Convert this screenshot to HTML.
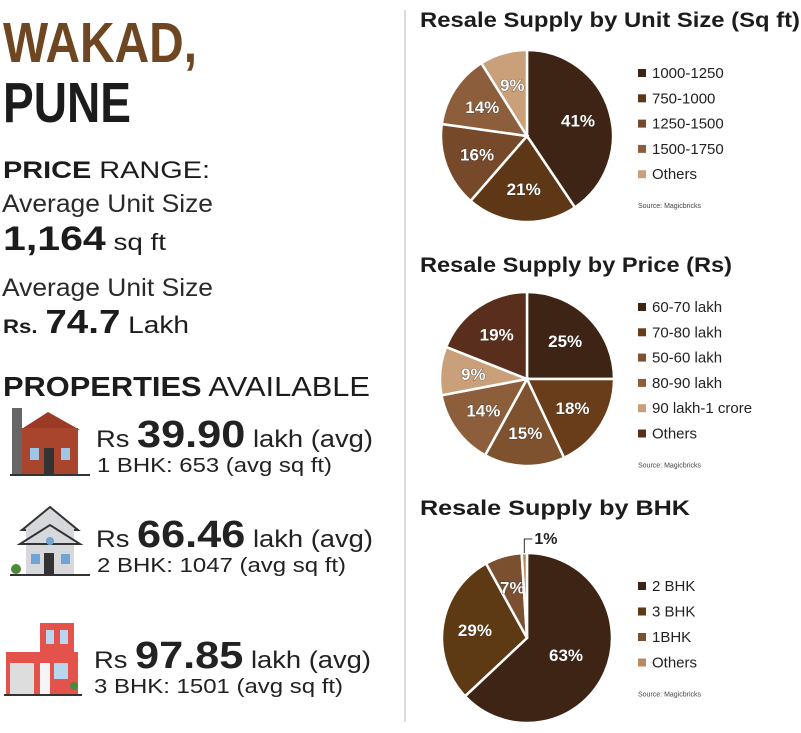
<!DOCTYPE html>
<html><head><meta charset="utf-8"><style>
html,body{margin:0;padding:0;background:#fff;}
svg{display:block;font-family:"Liberation Sans",sans-serif;}
</style></head><body>
<svg id="root" width="801" height="733" viewBox="0 0 801 733">
<g>
<text x="3" y="62" font-size="57" font-weight="bold" fill="#6e4722" textLength="194" lengthAdjust="spacingAndGlyphs">WAKAD,</text>
<text x="3" y="122" font-size="57" font-weight="bold" fill="#1c1c1c" textLength="128" lengthAdjust="spacingAndGlyphs">PUNE</text>
<text x="3" y="178" font-size="24" fill="#1c1c1c" textLength="207" lengthAdjust="spacingAndGlyphs"><tspan font-weight="bold">PRICE</tspan> RANGE:</text>
<text x="2" y="212" font-size="25" fill="#2a2a2a" textLength="211" lengthAdjust="spacingAndGlyphs">Average Unit Size</text>
<text x="3" y="250" font-size="23" fill="#1c1c1c" textLength="163" lengthAdjust="spacingAndGlyphs"><tspan font-weight="bold" font-size="34">1,164</tspan> sq ft</text>
<text x="2" y="296" font-size="25" fill="#2a2a2a" textLength="211" lengthAdjust="spacingAndGlyphs">Average Unit Size</text>
<text x="3" y="333" font-size="24" fill="#1c1c1c" textLength="186" lengthAdjust="spacingAndGlyphs"><tspan font-weight="bold" font-size="19">Rs.</tspan> <tspan font-weight="bold" font-size="33">74.7</tspan> Lakh</text>
<text x="3" y="396" font-size="28" fill="#1c1c1c" textLength="367" lengthAdjust="spacingAndGlyphs"><tspan font-weight="bold">PROPERTIES</tspan> AVAILABLE</text>

<g>
<rect x="12" y="408" width="10" height="66" fill="#666"/>
<polygon points="20,430 48,412 80,430" fill="#9c3b25"/>
<rect x="22" y="428" width="56" height="46" fill="#a8452c"/>
<rect x="30" y="448" width="9" height="12" fill="#9fc6e6"/>
<rect x="61" y="448" width="9" height="12" fill="#9fc6e6"/>
<rect x="44" y="448" width="10" height="26" fill="#333"/>
<rect x="10" y="474" width="80" height="2" fill="#333"/>
</g>
<text x="96" y="447" font-size="24" fill="#222" textLength="277" lengthAdjust="spacingAndGlyphs">Rs <tspan font-weight="bold" font-size="38">39.90</tspan> lakh (avg)</text>
<text x="97" y="472" font-size="20" fill="#222" textLength="235" lengthAdjust="spacingAndGlyphs">1 BHK: 653 (avg sq ft)</text>

<g>
<polygon points="22,530 50,507 78,530" fill="#d6d8dc" stroke="#333" stroke-width="2"/>
<rect x="26" y="528" width="48" height="46" fill="#d6d8dc"/>
<polygon points="20,544 50,525 80,544" fill="none" stroke="#333" stroke-width="2"/>
<circle cx="50" cy="541" r="4" fill="#6fa4d4"/>
<rect x="31" y="554" width="9" height="10" fill="#6fa4d4"/>
<rect x="61" y="554" width="9" height="10" fill="#6fa4d4"/>
<rect x="44" y="553" width="10" height="21" fill="#333"/>
<circle cx="16" cy="569" r="5" fill="#4c8a3a"/>
<rect x="10" y="574" width="80" height="2" fill="#333"/>
</g>
<text x="96" y="547" font-size="24" fill="#222" textLength="277" lengthAdjust="spacingAndGlyphs">Rs <tspan font-weight="bold" font-size="38">66.46</tspan> lakh (avg)</text>
<text x="97" y="572" font-size="20" fill="#222" textLength="249" lengthAdjust="spacingAndGlyphs">2 BHK: 1047 (avg sq ft)</text>

<g>
<rect x="40" y="623" width="34" height="30" fill="#e4524c"/>
<rect x="46" y="630" width="8" height="14" fill="#b9d6ef"/>
<rect x="60" y="630" width="8" height="14" fill="#b9d6ef"/>
<rect x="6" y="652" width="72" height="42" fill="#e4524c"/>
<rect x="10" y="663" width="24" height="31" fill="#ddd"/>
<rect x="40" y="663" width="10" height="31" fill="#f5f5f5"/>
<rect x="54" y="663" width="14" height="16" fill="#b9d6ef"/>
<circle cx="74" cy="686" r="4" fill="#4c8a3a"/>
<rect x="4" y="694" width="78" height="2" fill="#333"/>
</g>
<text x="94" y="668" font-size="24" fill="#222" textLength="277" lengthAdjust="spacingAndGlyphs">Rs <tspan font-weight="bold" font-size="38">97.85</tspan> lakh (avg)</text>
<text x="94" y="693" font-size="20" fill="#222" textLength="249" lengthAdjust="spacingAndGlyphs">3 BHK: 1501 (avg sq ft)</text>
</g>

<line x1="405" y1="10" x2="405" y2="722" stroke="#d0d0d0" stroke-width="1.5"/>

<text x="420" y="27" font-size="21" font-weight="bold" fill="#1c1c1c" textLength="380" lengthAdjust="spacingAndGlyphs">Resale Supply by Unit Size (Sq ft)</text>
<text x="420" y="272" font-size="21" font-weight="bold" fill="#1c1c1c" textLength="312" lengthAdjust="spacingAndGlyphs">Resale Supply by Price (Rs)</text>
<text x="420" y="515" font-size="21" font-weight="bold" fill="#1c1c1c" textLength="270" lengthAdjust="spacingAndGlyphs">Resale Supply by BHK</text>
<g id="charts"></g>
</svg>
<script>
const sizeCategories = ["1000-1250","750-1000","1250-1500","1500-1750","Others"];
const sizeValues = [41,21,16,14,9];
const sizeColors = ["#3d2414","#5e3716","#76492a","#8c5e3c","#c9a079"];
const priceCategories = ["60-70 lakh","70-80 lakh","50-60 lakh","80-90 lakh","90 lakh-1 crore","Others"];
const priceValues = [25,18,15,14,9,19];
const priceColors = ["#3d2414","#6a3d1a","#7e522e","#8c5e3c","#c9a079","#5a2e1c"];
const bhkCategories = ["2 BHK","3 BHK","1BHK","Others"];
const bhkValues = [63,29,7,1];
const bhkColors = ["#3d2414","#5e3a14","#7a5030","#b88a60"];

const NS="http://www.w3.org/2000/svg";
const host=document.getElementById('charts');
function mk(tag,attrs,parent){const e=document.createElementNS(NS,tag);for(const k in attrs)e.setAttribute(k,attrs[k]);parent.appendChild(e);return e;}

function pie(id,cats,vals,cols,cx,cy,r,legX,legY0,legStep){
  const g=mk('g',{},host);
  
  
  const tot=vals.reduce((a,b)=>a+b,0);
  let a0=-Math.PI/2;
  vals.forEach((v,i)=>{
    const a1=a0+v/tot*2*Math.PI;
    const large=(a1-a0)>Math.PI?1:0;
    const x0=cx+r*Math.cos(a0),y0=cy+r*Math.sin(a0),x1=cx+r*Math.cos(a1),y1=cy+r*Math.sin(a1);
    const p=mk('path',{d:`M${cx},${cy}L${x0},${y0}A${r},${r} 0 ${large} 1 ${x1},${y1}Z`,fill:cols[i],stroke:'#fff','stroke-width':2.5},g);
    
    
    const am=(a0+a1)/2;
    let lr=r*0.62, lx, ly;
    if(v<3){
      lx=cx+r*Math.cos(am); ly=cy+r*Math.sin(am);
      mk('polyline',{points:`${lx},${ly} ${lx},${ly-14} ${lx+8},${ly-14}`,fill:'none',stroke:'#333','stroke-width':1},g);
      const t=mk('text',{x:lx+10,y:ly-9,'font-size':16,'font-weight':'bold',fill:'#222'},g);
      t.textContent=v+'%';
      
      
    } else {
      if(v>50) lr=r*0.5;
      lx=cx+lr*Math.cos(am); ly=cy+lr*Math.sin(am);
      const t=mk('text',{x:lx,y:ly+6,'font-size':17,'font-weight':'bold',fill:'#fff','text-anchor':'middle',stroke:'#2a1a10','stroke-width':0.6,'paint-order':'stroke'},g);
      t.textContent=v+'%';
      
      
    }
    a0=a1;
  });
  cats.forEach((c,i)=>{
    const y=legY0+i*legStep;
    const s=mk('rect',{x:legX,y:y-9,width:8,height:8,fill:cols[i]},g);
    
    
    const t=mk('text',{x:legX+14,y:y,'font-size':15,fill:'#222'},g);
    t.textContent=c;
    
    
  });
  const src=mk('text',{x:legX,y:legY0+(cats.length-1)*legStep+29,'font-size':7,fill:'#444'},g);
  src.textContent='Source: Magicbricks';
  
  
}
pie('pie-unit-size',sizeCategories,sizeValues,sizeColors,527,136,86,638,78,25.3);
pie('pie-price',priceCategories,priceValues,priceColors,527,379,87,638,312,25.3);
pie('pie-bhk',bhkCategories,bhkValues,bhkColors,527,638,85,638,591,25.5);
</script>
</body></html>
